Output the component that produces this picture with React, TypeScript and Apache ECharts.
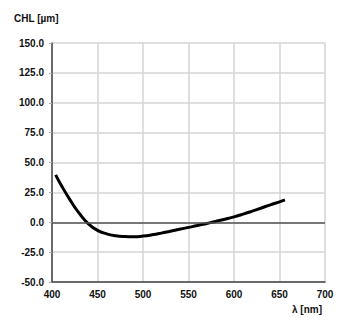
import React, { useEffect, useRef } from "react";
import * as echarts from "echarts";

const wavelengths = [404, 410, 420, 430, 440, 450, 460, 470, 480, 490, 500, 510, 520, 530, 540, 550, 560, 570, 580, 590, 600, 610, 620, 630, 640, 650, 656];
const chl = [39.7, 31.2, 18.5, 7.4, -1.3, -6.8, -9.7, -11.3, -12.0, -12.2, -11.6, -10.5, -9.1, -7.5, -5.9, -4.3, -2.7, -1.0, 0.7, 2.5, 4.5, 6.8, 9.3, 11.9, 14.6, 17.1, 18.7];

const xTicks = { min: 400, max: 700, interval: 50 };
const yTicks = { min: -50, max: 150, interval: 25 };

export default function App() {
  const ref = useRef<HTMLDivElement>(null);
  useEffect(() => {
    const chart = echarts.init(ref.current!, null, { renderer: "svg" });
    const font = "Liberation Sans, Arial, sans-serif";
    chart.setOption({
      animation: false,
      grid: { left: 44, right: 18, top: 35, bottom: 39, containLabel: false },
      xAxis: {
        type: "value",
        min: xTicks.min,
        max: xTicks.max,
        interval: xTicks.interval,
        axisLine: { onZero: false, lineStyle: { color: "#444", width: 1.5 } },
        axisTick: { show: false },
        axisLabel: { color: "#111", fontSize: 10, fontWeight: "bold", fontFamily: font, margin: 7 },
        splitLine: { show: true, lineStyle: { color: "#d4d4d4", width: 1.5 } },
      },
      yAxis: {
        type: "value",
        min: yTicks.min,
        max: yTicks.max,
        interval: yTicks.interval,
        axisLine: { show: true, lineStyle: { color: "#444", width: 1.5 } },
        axisTick: { show: true, length: 3, lineStyle: { color: "#aaa" } },
        axisLabel: {
          color: "#111",
          fontSize: 10,
          fontWeight: "bold",
          fontFamily: font,
          margin: 8,
          formatter: (v: number) => v.toFixed(1),
        },
        splitLine: { show: true, lineStyle: { color: "#d4d4d4", width: 1.5 } },
      },
      graphic: [
        { type: "text", left: 6, top: 5, style: { text: "CHL [µm]", fill: "#111", font: `bold 10px ${font}` } },
        { type: "text", left: 284, top: 296, style: { text: "λ [nm]", fill: "#111", font: `bold 10px ${font}` } },
      ],
      series: [
        {
          type: "line",
          data: wavelengths.map((w, i) => [w, chl[i]]),
          smooth: true,
          showSymbol: false,
          lineStyle: { color: "#000", width: 3 },
          markLine: {
            silent: true,
            symbol: "none",
            label: { show: false },
            lineStyle: { color: "#555", width: 1.5, type: "solid" },
            data: [{ yAxis: 0 }],
          },
          z: 3,
        },
      ],
    });
    return () => chart.dispose();
  }, []);
  return <div ref={ref} style={{ width: 335, height: 313 }} />;
}
